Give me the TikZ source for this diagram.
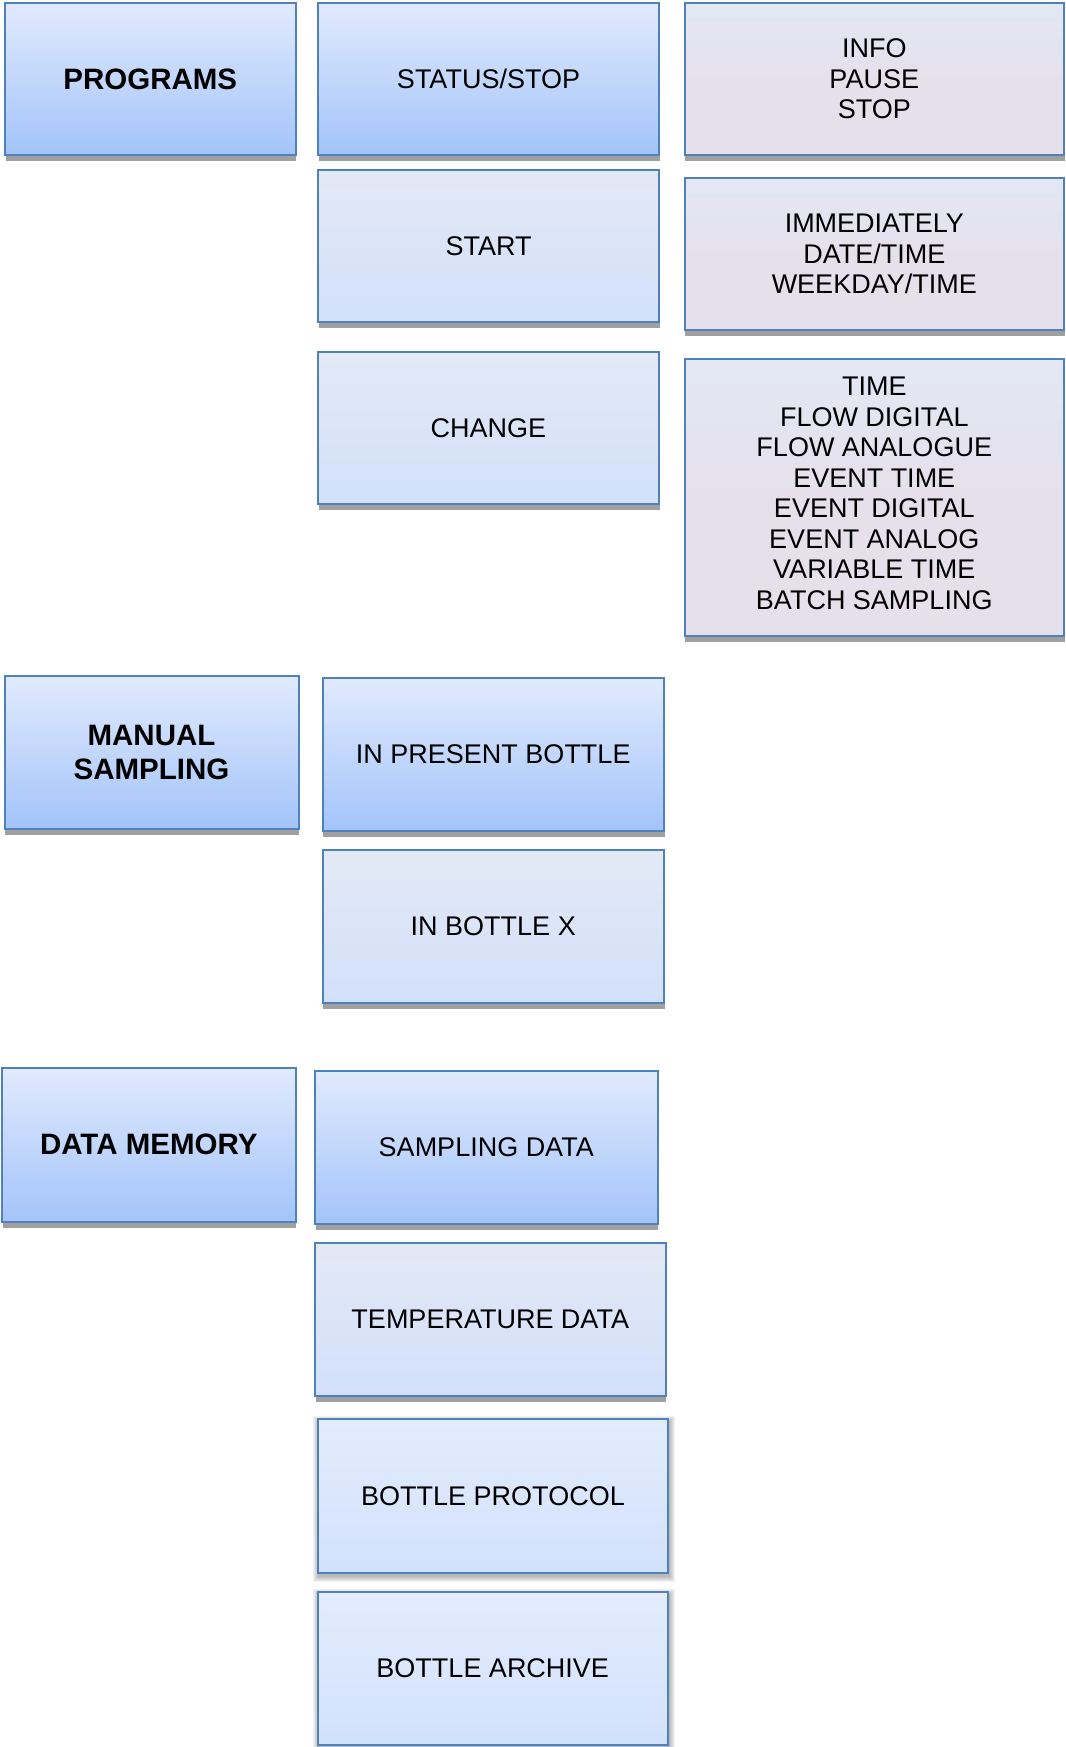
\documentclass[tikz,border=0pt]{standalone}
\usepackage{fontspec}
\setmainfont{Liberation Sans}
\usetikzlibrary{shadows,backgrounds}
\definecolor{bord}{RGB}{79,129,189}
\definecolor{btop}{RGB}{225,234,253}
\definecolor{bbot}{RGB}{163,196,250}
\definecolor{ltop}{RGB}{227,233,245}
\definecolor{lbot}{RGB}{210,224,250}
\definecolor{vtop}{RGB}{227,232,244}
\definecolor{vmid}{RGB}{229,224,236}
\definecolor{sgray}{RGB}{160,160,160}
\definecolor{ptop}{RGB}{227,236,253}
\definecolor{pbot}{RGB}{210,225,252}
\tikzset{
  box/.style={draw=bord, line width=2pt, rectangle, inner sep=0pt, outer sep=0pt,
    align=center, text=black, font=\fontsize{27}{30.5}\selectfont},
  barshadow/.style={drop shadow={shadow xshift=0.5pt, shadow yshift=-6pt, fill=sgray, opacity=1}},
  bluebox/.style={box, barshadow, top color=btop, bottom color=bbot},
  headbox/.style={bluebox, font=\bfseries\fontsize{29.5}{34}\selectfont},
  lightbox/.style={box, barshadow, top color=ltop, bottom color=lbot},
  violetbox/.style={box, barshadow, top color=vtop, bottom color=vmid, middle color=vmid},
  softbox/.style={box, top color=ptop, bottom color=pbot},
}
\begin{document}
\begin{tikzpicture}[x=1pt, y=-1pt]
\useasboundingbox (0,0) rectangle (1065,1747);
% Programs group
\node[headbox,   minimum width=290.5pt, minimum height=152pt] (programs) at (150.25,79) {PROGRAMS};
\node[bluebox,   minimum width=341pt,   minimum height=152pt] (status) at (488.5,79) {STATUS/STOP};
\node[violetbox, minimum width=379.5pt, minimum height=152pt] (info) at (874.25,79) {INFO\\PAUSE\\STOP};
\node[lightbox,  minimum width=341pt,   minimum height=152pt] (start) at (488.5,246) {START};
\node[violetbox, minimum width=379.5pt, minimum height=152pt] (immed) at (874.25,254) {IMMEDIATELY\\DATE/TIME\\WEEKDAY/TIME};
\node[lightbox,  minimum width=341pt,   minimum height=151.5pt] (change) at (488.5,427.75) {CHANGE};
\node[violetbox, minimum width=379.5pt, minimum height=277pt] (modes) at (874.25,497.5)
  {TIME\\FLOW DIGITAL\\FLOW ANALOGUE\\EVENT TIME\\EVENT DIGITAL\\EVENT ANALOG\\VARIABLE TIME\\BATCH SAMPLING\rule[-9pt]{0pt}{9pt}};
% Manual sampling group
\node[headbox,   minimum width=294pt,   minimum height=153pt] (manual) at (151.5,752) {MANUAL\\SAMPLING};
\node[bluebox,   minimum width=341.5pt, minimum height=152.5pt] (present) at (493.25,754.25) {IN PRESENT BOTTLE};
\node[lightbox,  minimum width=341.5pt, minimum height=153.5pt] (bottlex) at (493.25,926.25) {IN BOTTLE X};
% Data memory group
\node[headbox,   minimum width=293.5pt, minimum height=154pt] (memory) at (148.75,1144.5) {DATA MEMORY};
\node[bluebox,   minimum width=342.5pt, minimum height=153.5pt] (sampling) at (486.25,1147.25) {SAMPLING DATA};
\node[lightbox,  minimum width=350.5pt, minimum height=153pt] (temp) at (490.25,1319) {TEMPERATURE DATA};
\node[softbox,   minimum width=349.4pt, minimum height=153.4pt] (protocol) at (493,1496) {BOTTLE PROTOCOL};
\node[softbox,   minimum width=349.5pt, minimum height=153pt] (archive) at (492.75,1668.5) {BOTTLE ARCHIVE};
% soft shadows
\begin{scope}[on background layer]
  \foreach \n in {protocol,archive}{
    \foreach \i in {1,...,6}{
      \fill[black, opacity=0.05] ([shift={(-\i+1,-\i+3)}]\n.north west) rectangle ([shift={(\i+1,\i+3)}]\n.south east);
    }
  }
\end{scope}
\end{tikzpicture}
\end{document}
